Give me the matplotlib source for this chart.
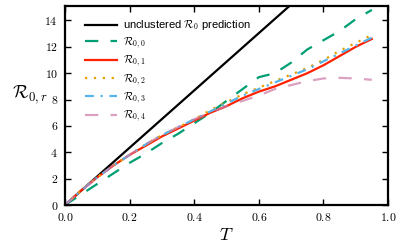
import matplotlib
matplotlib.use("Agg")
import matplotlib.pyplot as plt
from matplotlib.ticker import FuncFormatter

plt.rcParams['mathtext.fontset'] = 'cm'
plt.rcParams['font.family'] = ['Liberation Sans', 'DejaVu Sans']

# transmissibility values
T = [0.0, 0.05, 0.1, 0.15, 0.2, 0.25, 0.3, 0.35, 0.4, 0.45,
     0.5, 0.55, 0.6, 0.65, 0.7, 0.75, 0.8, 0.85, 0.9, 0.95]

# unclustered prediction: straight line through origin
T_line = [0.0, 0.75]
R0_line = [0.0, 16.3]

R00 = [0.0, 0.8, 1.6, 2.4, 3.2, 3.9, 4.7, 5.4, 6.2, 7.0,
       7.9, 8.8, 9.7, 10.0, 10.8, 11.8, 12.5, 13.2, 14.1, 14.8]
R01 = [0.0, 1.1, 2.1, 3.0, 3.8, 4.5, 5.2, 5.8, 6.4, 7.0,
       7.5, 8.1, 8.6, 9.0, 9.5, 10.0, 10.6, 11.3, 12.0, 12.6]
R02 = [0.0, 1.1, 2.1, 3.0, 3.8, 4.6, 5.3, 5.9, 6.5, 7.2,
       7.8, 8.4, 8.9, 9.4, 9.9, 10.4, 11.0, 11.7, 12.3, 12.9]
R03 = [0.0, 1.1, 2.1, 3.0, 3.8, 4.6, 5.3, 5.9, 6.5, 7.1,
       7.7, 8.3, 8.8, 9.3, 9.8, 10.3, 10.9, 11.5, 12.1, 12.7]
R04 = [0.0, 1.1, 2.1, 3.0, 3.8, 4.6, 5.3, 5.9, 6.5, 7.0,
       7.5, 7.9, 8.3, 8.8, 9.1, 9.4, 9.6, 9.65, 9.6, 9.5]

fig = plt.figure(figsize=(4, 2.5), dpi=100)
ax = fig.add_axes([0.1625, 0.18, 0.8075, 0.796])

ax.plot(T_line, R0_line, color='black', lw=1.6,
        label=r'unclustered $\mathcal{R}_0$ prediction')
ax.plot(T, R00, color='#009E73', lw=1.6, dashes=(6, 5.5),
        label=r'$\mathcal{R}_{0,0}$')
ax.plot(T, R01, color='#FF2200', lw=1.6, label=r'$\mathcal{R}_{0,1}$')
ax.plot(T, R02, color='#E69F00', lw=1.6, dashes=(1, 3),
        label=r'$\mathcal{R}_{0,2}$')
ax.plot(T, R03, color='#56B4E9', lw=1.6, dashes=(4, 3, 1, 3),
        label=r'$\mathcal{R}_{0,3}$')
ax.plot(T, R04, color='#CC79A7', lw=1.6, alpha=0.7, dashes=(6, 5.5),
        label=r'$\mathcal{R}_{0,4}$')

ax.set_xlim(0, 1.0)
ax.set_ylim(0, 15.1)
ax.set_xticks([0.0, 0.2, 0.4, 0.6, 0.8, 1.0])
ax.set_yticks([0, 2, 4, 6, 8, 10, 12, 14])
ax.xaxis.set_major_formatter(FuncFormatter(lambda v, p: r'$%.1f$' % v))
ax.yaxis.set_major_formatter(FuncFormatter(lambda v, p: r'$%d$' % v))
ax.tick_params(direction='in', top=True, right=True, length=4, width=1,
               labelsize=8.5, pad=5)
for s in ax.spines.values():
    s.set_linewidth(1.6)

ax.set_xlabel(r'$T$', fontsize=13, labelpad=2)
ax.set_ylabel(r'$\mathcal{R}_{0,r}$', fontsize=13, rotation=0, labelpad=14)
ax.yaxis.set_label_coords(-0.11, 0.5)

ax.legend(loc='upper left', bbox_to_anchor=(0.048, 0.96), frameon=False,
          fontsize=8, handlelength=2.9, labelspacing=0.28, borderaxespad=0,
          handletextpad=0.55)

fig.savefig('out.png', dpi=100)
